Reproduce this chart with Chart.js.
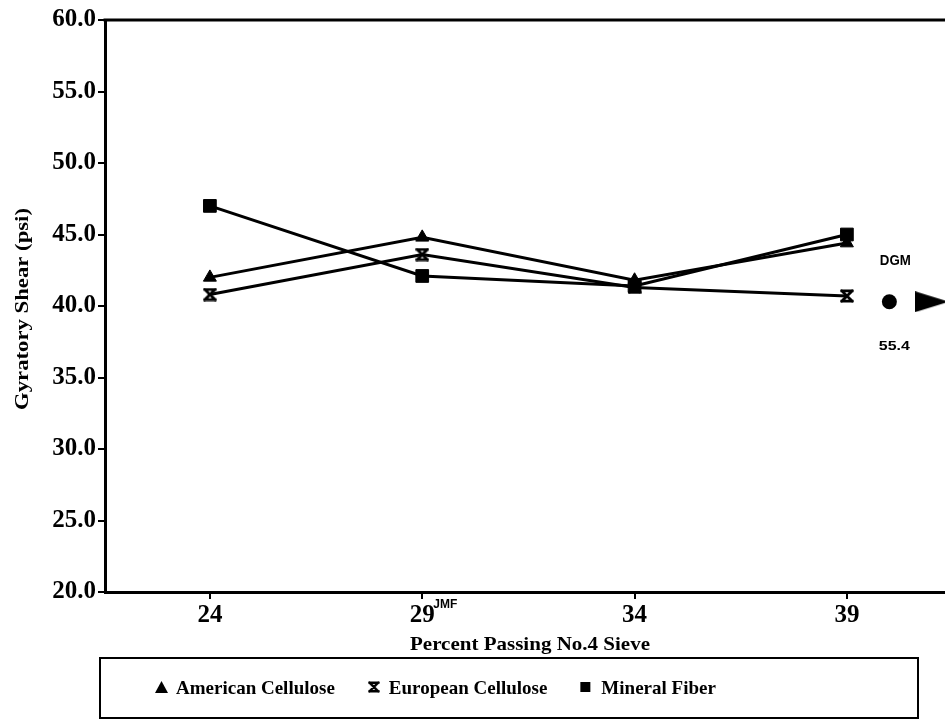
<!DOCTYPE html>
<html>
<head>
<meta charset="utf-8">
<script src="https://cdn.jsdelivr.net/npm/chart.js@4.4.1/dist/chart.umd.min.js"></script>
<style>
  html, body { margin: 0; padding: 0; background: #fff; overflow: hidden; }
  #wrap { position: relative; width: 960px; height: 725px; }
</style>
</head>
<body>
<div id="wrap"><canvas id="c" width="960" height="725"></canvas></div>
<script>
// Percent passing No.4 sieve
const sieve = [24, 29, 34, 39];
const xTicks = [24, 29, 34, 39];
const yTicks = [20, 25, 30, 35, 40, 45, 50, 55, 60];

// Gyratory shear (psi) per fiber type
const americanCellulose = [42.0, 44.8, 41.8, 44.4];
const europeanCellulose = [40.8, 43.6, 41.3, 40.7];
const mineralFiber      = [47.0, 42.1, 41.4, 45.0];

// DGM reference marker and its stated value
const dgmX = [40, 41];
const dgmY = [40.3, 40.3];
const dgmValue = 55.4;

const xTitle = 'Percent Passing No.4 Sieve';
const yTitle = 'Gyratory Shear (psi)';

const serif = '"Liberation Serif", "Times New Roman", serif';
const sans = '"Liberation Sans", Arial, sans-serif';

// hourglass marker: two bars joined by crossing diagonals
function hourglass(size, lw) {
  const c = document.createElement('canvas');
  c.width = size; c.height = size;
  const g = c.getContext('2d');
  g.strokeStyle = '#000'; g.lineWidth = lw; g.lineCap = 'square';
  const a = lw / 2 + 0.5, b = size - lw / 2 - 0.5;
  g.beginPath();
  g.moveTo(a, a); g.lineTo(b, a);
  g.moveTo(a, b); g.lineTo(b, b);
  g.moveTo(a, a); g.lineTo(b, b);
  g.moveTo(b, a); g.lineTo(a, b);
  g.stroke();
  return c;
}
// flat right-pointing arrowhead
function arrowHead(w, h) {
  const c = document.createElement('canvas');
  c.width = w; c.height = h;
  const g = c.getContext('2d');
  g.fillStyle = '#000';
  g.beginPath();
  g.moveTo(0, 0); g.lineTo(w, h / 2); g.lineTo(0, h);
  g.closePath(); g.fill();
  return c;
}
const hgPoint = hourglass(14, 2.8);
const hgLegend = hourglass(12, 2.4);
const arrow = arrowHead(34, 21);

const pts = arr => sieve.map((x, i) => ({ x, y: arr[i] }));

const series = [
  { label: 'American Cellulose', values: americanCellulose, style: 'triangle', r: 7.5 },
  { label: 'European Cellulose', values: europeanCellulose, style: hgPoint, r: 7 },
  { label: 'Mineral Fiber', values: mineralFiber, style: 'rect', r: 9 }
];

const datasets = series.map(s => ({
  label: s.label,
  data: pts(s.values),
  borderColor: '#000',
  backgroundColor: '#000',
  borderWidth: 3,
  tension: 0,
  pointStyle: s.style,
  pointRadius: s.r,
  pointHoverRadius: s.r,
  pointBorderWidth: 1,
  pointBackgroundColor: '#000',
  pointBorderColor: '#000'
}));

datasets.push({
  label: 'DGM',
  data: dgmX.map((x, i) => ({ x, y: dgmY[i] })),
  showLine: false,
  pointStyle: ['circle', arrow],
  pointRadius: [7.5, 15],
  pointHoverRadius: [7.5, 15],
  pointBackgroundColor: '#000',
  pointBorderColor: '#000',
  pointBorderWidth: 0
});

// draws text squeezed or stretched to a given length
function stretchText(ctx, text, x, y, length, angle) {
  const w = ctx.measureText(text).width;
  ctx.save();
  ctx.translate(x, y);
  ctx.rotate(angle);
  ctx.scale(length / w, 1);
  ctx.textAlign = 'center';
  ctx.textBaseline = 'middle';
  ctx.fillText(text, 0, 0);
  ctx.restore();
}

// frame top line, axis titles, JMF note, DGM labels and boxed legend
const extras = {
  id: 'extras',
  afterDraw(chart) {
    const ctx = chart.ctx;
    const ca = chart.chartArea;
    const xs = chart.scales.x, ys = chart.scales.y;
    ctx.save();
    ctx.strokeStyle = '#000';
    ctx.lineWidth = 3;
    ctx.beginPath();
    ctx.moveTo(ca.left - 1.5, ca.top);
    ctx.lineTo(ca.right, ca.top);
    ctx.stroke();

    ctx.fillStyle = '#000';
    ctx.font = 'bold 19px ' + serif;
    stretchText(ctx, xTitle, 530, 645, 240, 0);
    ctx.font = 'bold 18px ' + serif;
    stretchText(ctx, yTitle, 23, 309, 202, -Math.PI / 2);

    ctx.font = 'bold 12px ' + sans;
    ctx.textAlign = 'left';
    ctx.textBaseline = 'middle';
    ctx.fillText('JMF', xs.getPixelForValue(29) + 11, ca.bottom + 13);

    const dx = xs.getPixelForValue(dgmX[0]);
    const dy = ys.getPixelForValue(dgmY[0]);
    ctx.font = 'bold 14px ' + sans;
    stretchText(ctx, 'DGM', dx + 6, dy - 41, 31, 0);
    ctx.font = 'bold 13px ' + sans;
    stretchText(ctx, dgmValue.toFixed(1), dx + 5, dy + 45, 31, 0);

    // legend box
    const bx = 100, by = 658, bw = 818, bh = 60;
    ctx.lineWidth = 2;
    ctx.strokeRect(bx, by, bw, bh);
    const cy = by + bh / 2;
    let x = 155;
    ctx.font = 'bold 19px ' + serif;
    ctx.textAlign = 'left';
    ctx.textBaseline = 'middle';
    series.forEach(s => {
      ctx.fillStyle = '#000';
      if (s.style === 'triangle') {
        ctx.beginPath();
        ctx.moveTo(x, cy + 5); ctx.lineTo(x + 13, cy + 5); ctx.lineTo(x + 6.5, cy - 7);
        ctx.closePath(); ctx.fill();
      } else if (s.style === 'rect') {
        ctx.fillRect(x, cy - 6, 10, 10);
      } else {
        ctx.drawImage(hgLegend, x, cy - 7);
      }
      const tx = x + 21;
      ctx.fillText(s.label, tx, cy + 1);
      x = tx + ctx.measureText(s.label).width + 33;
    });
    ctx.restore();
  }
};

new Chart(document.getElementById('c'), {
  type: 'line',
  data: { datasets },
  plugins: [extras],
  options: {
    responsive: false,
    animation: false,
    events: [],
    layout: { padding: { top: 20, right: 0, left: 0, bottom: 65 } },
    plugins: { legend: { display: false }, tooltip: { enabled: false } },
    scales: {
      x: {
        type: 'linear',
        min: 21.53,
        max: 41.31,
        afterBuildTicks: s => { s.ticks = xTicks.map(v => ({ value: v })); },
        afterFit: s => { s.height = 68; },
        grid: { drawOnChartArea: false, drawTicks: true, tickLength: 7, color: '#000', lineWidth: 2 },
        border: { color: '#000', width: 3 },
        ticks: { color: '#000', padding: 2, font: { family: serif, size: 25, weight: 'bold' }, callback: v => String(v) },
        title: { display: false }
      },
      y: {
        min: 20,
        max: 60,
        afterBuildTicks: s => { s.ticks = yTicks.map(v => ({ value: v })); },
        afterFit: s => { s.width = 105; },
        grid: { drawOnChartArea: false, drawTicks: true, tickLength: 7, color: '#000', lineWidth: 2 },
        border: { color: '#000', width: 3 },
        ticks: { color: '#000', padding: 2, font: { family: serif, size: 25, weight: 'bold' }, callback: v => v.toFixed(1) },
        title: { display: false }
      }
    }
  }
});
</script>
</body>
</html>
